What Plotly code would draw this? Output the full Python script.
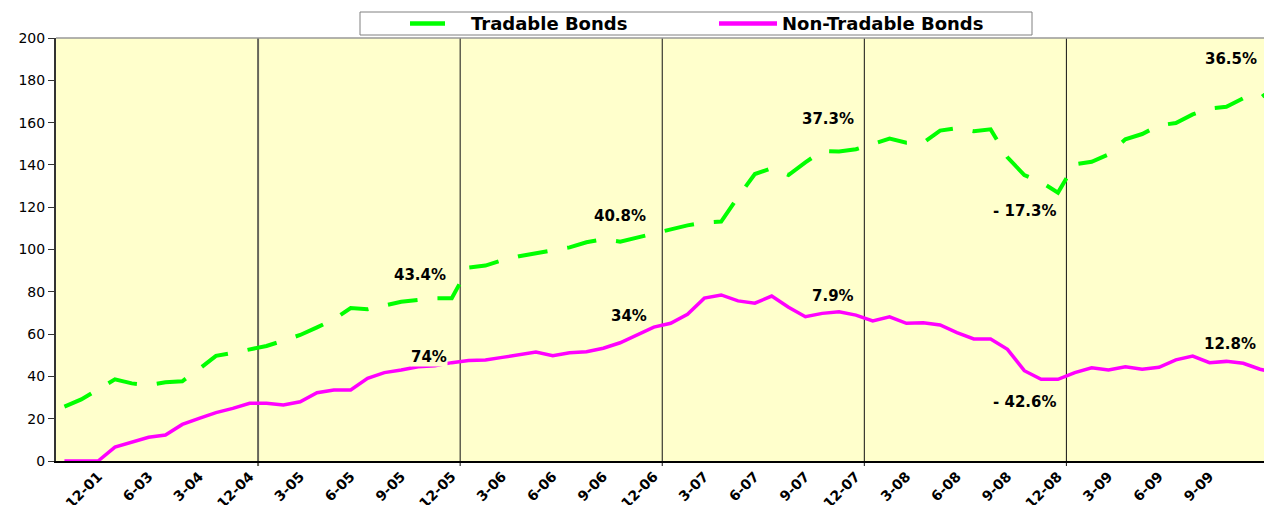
import plotly.graph_objects as go

# ---------------- data ----------------
tradable = [25.7, 29.1, 33.9, 38.6, 36.7, 35.9, 37.2, 37.7, 43.5, 49.7, 51.1, 52.8,
            54.4, 56.9, 59.6, 63.2, 67.0, 72.3, 71.7, 73.5, 75.3, 76.2, 76.9, 77.0,
            91.5, 92.4, 94.9, 96.8, 98.2, 99.4, 101.0, 103.4, 104.8, 103.7, 105.6, 107.3,
            109.5, 111.4, 112.7, 113.2, 124.8, 135.7, 138.4, 135.2, 141.2, 146.6, 146.3, 147.4,
            149.9, 152.4, 150.5, 150.5, 156.2, 157.4, 155.9, 156.8, 143.6, 135.2, 131.9, 126.9,
            140.3, 141.5, 145.0, 152.1, 154.6, 158.7, 159.8, 163.9, 166.7, 167.5, 171.5, 171.5,
            177.5]
non_tradable = [0, 0, 0, 6.6, 8.9, 11.2, 12.3, 17.3, 20.2, 22.9, 24.9, 27.3,
                27.3, 26.5, 28.0, 32.3, 33.6, 33.6, 39.1, 41.8, 43.0, 44.6, 45.0, 46.5,
                47.5, 47.8, 49.0, 50.4, 51.5, 49.8, 51.2, 51.7, 53.3, 55.9, 59.6, 63.3,
                65.1, 69.4, 77.0, 78.5, 75.7, 74.6, 78.0, 72.7, 68.2, 69.8, 70.6, 69.0,
                66.2, 68.2, 65.1, 65.4, 64.3, 60.7, 57.7, 57.7, 52.8, 42.7, 38.6, 38.6,
                41.8, 44.1, 43.0, 44.6, 43.4, 44.3, 47.8, 49.6, 46.5, 47.1, 46.2, 43.4,
                41.6]
tick_labels = ["12-01", "6-03", "3-04", "12-04", "3-05", "6-05", "9-05", "12-05",
               "3-06", "6-06", "9-06", "12-06", "3-07", "6-07", "9-07", "12-07",
               "3-08", "6-08", "9-08", "12-08", "3-09", "6-09", "9-09"]
year_marks = ["12-04", "12-05", "12-06", "12-07", "12-08", "12-09"]

label_text = ["43.4%", "74%", "40.8%", "34%", "37.3%", "7.9%", "- 17.3%", "- 42.6%", "36.5%", "12.8%"]
label_x = [21.1, 21.65, 33.0, 33.5, 45.35, 45.65, 57.05, 57.05, 69.25, 69.2]
label_y = [87.9, 49.2, 115.8, 68.5, 161.7, 78.2, 118.4, 28.0, 190.2, 55.2]

series_names = ["Tradable Bonds", "Non-Tradable Bonds"]

# ---------------- layout constants ----------------
OFF = 8                      # page body margin
W, H = 1264, 497
ML, MR, MT, MB = 48, 0, 30, 44
PW, PH = W - ML - MR, H - MT - MB
per_month = 16.84
x_range = [-0.5, -0.5 + PW / per_month]

def px_x(p):
    return (p - OFF - ML) / PW

def px_y(p):
    return (H - MB - (p - OFF)) / PH

x_idx = list(range(len(tradable)))
tick_pos = [2 + 3 * k for k in range(len(tick_labels))]
boundaries = [11.5 + 12 * k for k in range(len(year_marks))]

fig = go.Figure()
fig.add_trace(go.Scatter(x=x_idx, y=tradable, mode="lines", name=series_names[0],
                         line=dict(color="#00FF00", width=4, dash="30px,20px"),
                         showlegend=False))
fig.add_trace(go.Scatter(x=x_idx, y=non_tradable, mode="lines", name=series_names[1],
                         line=dict(color="#FF00FF", width=3.5),
                         showlegend=False))

shapes = []
for i, b in enumerate(boundaries):
    shapes.append(dict(type="line", xref="x", yref="paper", x0=b, x1=b,
                       y0=-5 / PH, y1=1, layer="below",
                       line=dict(color="#66665a" if i == 0 else "#111111",
                                 width=2 if i == 0 else 1)))
# top border of plot area
shapes.append(dict(type="line", xref="paper", yref="paper", x0=0, x1=1, y0=1, y1=1,
                   line=dict(color="#999999", width=1.5)))
# legend box
shapes.append(dict(type="rect", xref="paper", yref="paper",
                   x0=px_x(360), x1=px_x(1032), y0=px_y(35), y1=px_y(12),
                   line=dict(color="#808080", width=1), fillcolor="white"))
shapes.append(dict(type="line", xref="paper", yref="paper",
                   x0=px_x(410), x1=px_x(445), y0=px_y(23.5), y1=px_y(23.5),
                   line=dict(color="#00FF00", width=4.5)))
shapes.append(dict(type="line", xref="paper", yref="paper",
                   x0=px_x(719), x1=px_x(777), y0=px_y(23.5), y1=px_y(23.5),
                   line=dict(color="#FF00FF", width=4.5)))

annotations = []
for t, x, y in zip(label_text, label_x, label_y):
    annotations.append(dict(x=x, y=y, xref="x", yref="y", text=t, showarrow=False,
                            font=dict(family="DejaVu Sans", size=15, color="black", weight="bold"),
                            bgcolor="#FFFFCC", borderpad=0))
annotations.append(dict(x=px_x(469), y=px_y(24), xref="paper", yref="paper",
                        xanchor="left", yanchor="middle", text=series_names[0], showarrow=False,
                        font=dict(family="DejaVu Sans", size=18, color="black", weight="bold")))
annotations.append(dict(x=px_x(780), y=px_y(24), xref="paper", yref="paper",
                        xanchor="left", yanchor="middle", text=series_names[1], showarrow=False,
                        font=dict(family="DejaVu Sans", size=18, color="black", weight="bold")))

fig.update_layout(
    template="none",
    width=W, height=H,
    margin=dict(l=ML, r=MR, t=MT, b=MB, pad=0),
    paper_bgcolor="white",
    plot_bgcolor="#FFFFCC",
    showlegend=False,
    shapes=shapes,
    annotations=annotations,
    xaxis=dict(range=x_range, tickmode="array", tickvals=tick_pos, ticktext=tick_labels,
               tickangle=-45, ticks="", showgrid=False, zeroline=False,
               showline=True, linecolor="black", linewidth=1.5,
               tickfont=dict(family="DejaVu Sans", size=14, color="black", weight="bold"),
               automargin=False),
    yaxis=dict(range=[0, 200], dtick=20, tick0=0, ticks="outside", ticklen=6,
               tickcolor="#333333", showgrid=False, zeroline=False,
               showline=True, linecolor="#333333", linewidth=2,
               tickfont=dict(family="DejaVu Sans", size=14, color="black"),
               automargin=False),
)

fig.write_html("out.html")
